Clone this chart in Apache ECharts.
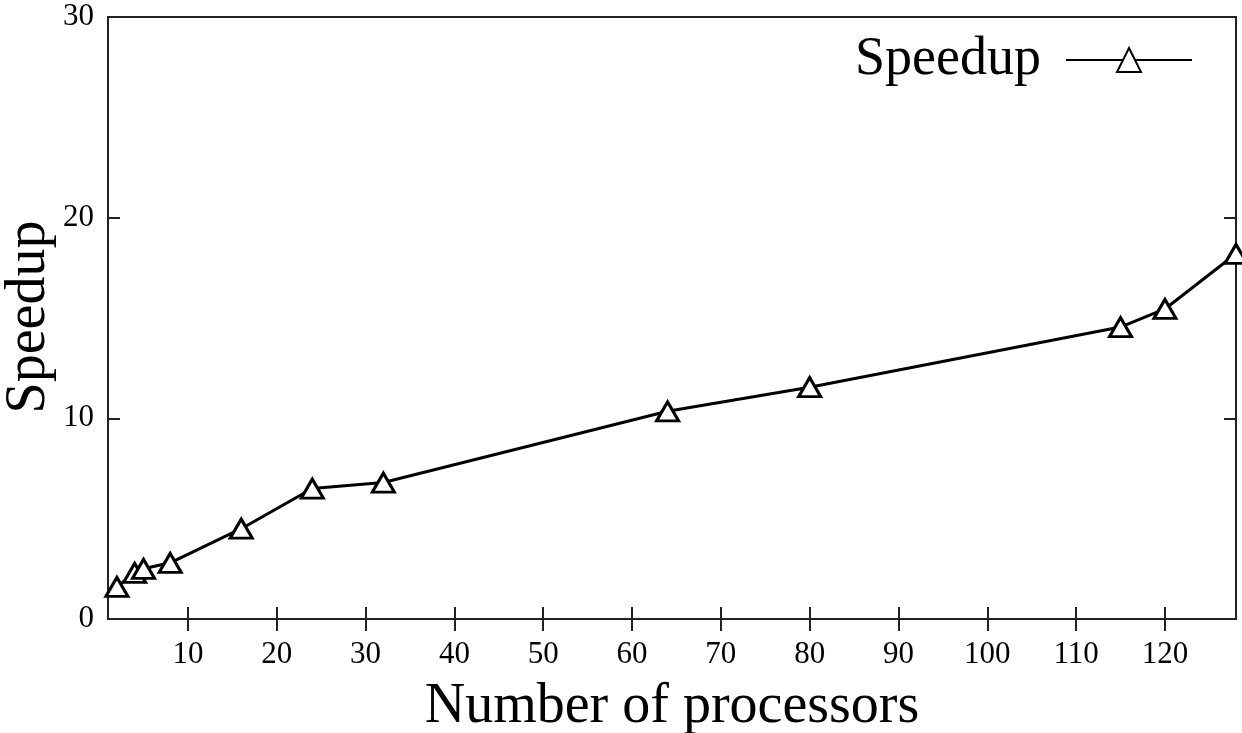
<!DOCTYPE html>
<html><head><meta charset="utf-8">
<script src="https://cdn.jsdelivr.net/npm/echarts@6/dist/echarts.min.js"></script>
<style>html,body{margin:0;padding:0;background:#fff}#c{width:1242px;height:733px}</style>
</head><body><div id="c"></div>
<script>
const processors = [2, 4, 5, 8, 16, 24, 32, 64, 80, 115, 120, 128];
const speedup = [1.6, 2.3, 2.5, 2.8, 4.5, 6.5, 6.8, 10.35, 11.55, 14.55, 15.45, 18.2];
const xTicks = [10, 20, 30, 40, 50, 60, 70, 80, 90, 100, 110, 120];
const yTicks = [0, 10, 20, 30];
const seriesName = 'Speedup';
const yTitle = 'Speedup';
const xTitle = 'Number of processors';

const font = '"Liberation Serif", "Times New Roman", serif';
const chart = echarts.init(document.getElementById('c'));
const frame = '#222';
chart.setOption({
  animation: false,
  backgroundColor: '#fff',
  grid: { left: 108, top: 17, width: 1128, height: 602, containLabel: false, outerBoundsMode: 'none', show: true, borderColor: frame, borderWidth: 2, backgroundColor: 'transparent' },
  graphic: [{
    type: 'text', x: 29, y: 317, rotation: Math.PI / 2,
    style: { text: yTitle, x: 0, y: 0, align: 'center', verticalAlign: 'middle', font: '56px "Liberation Serif", "Times New Roman", serif', fill: '#000' }
  }],
  legend: {
    right: 44, top: 28, align: 'right', itemWidth: 126, itemHeight: 30, itemGap: 10,
    textStyle: { fontFamily: font, fontSize: 54, color: '#000', padding: [0, 20, 0, 0] },
    data: [seriesName]
  },
  xAxis: [{
    type: 'value', min: 1, max: 128, position: 'bottom',
    name: xTitle, nameLocation: 'middle', nameGap: 60, nameMoveOverlap: false,
    nameTextStyle: { fontFamily: font, fontSize: 56, color: '#000' },
    axisLine: { show: false },
    axisTick: { show: true, inside: true, length: 12, lineStyle: { color: frame, width: 2 }, customValues: xTicks },
    axisLabel: { fontFamily: font, fontSize: 31, color: '#000', margin: 20, customValues: xTicks },
    splitLine: { show: false }
  }, {
    type: 'value', min: 1, max: 128, position: 'top',
    axisLine: { show: false },
    axisTick: { show: true, inside: true, length: 12, lineStyle: { color: frame, width: 2 }, customValues: xTicks },
    axisLabel: { show: false },
    splitLine: { show: false }
  }],
  yAxis: [{
    type: 'value', min: 0, max: 30, interval: 10, position: 'left',
    axisLine: { show: false },
    axisTick: { show: true, inside: true, length: 12, lineStyle: { color: frame, width: 2 } },
    axisLabel: { fontFamily: font, fontSize: 31, color: '#000', margin: 14, padding: [4, 0, 0, 0], customValues: yTicks },
    splitLine: { show: false }
  }, {
    type: 'value', min: 0, max: 30, interval: 10, position: 'right',
    axisLine: { show: false },
    axisTick: { show: true, inside: true, length: 12, lineStyle: { color: frame, width: 2 } },
    axisLabel: { show: false },
    splitLine: { show: false }
  }],
  series: [{
    name: seriesName, type: 'line',
    data: processors.map((p, i) => [p, speedup[i]]),
    symbol: 'triangle', symbolSize: [22, 19], showAllSymbol: true,
    lineStyle: { color: '#000', width: 3 },
    itemStyle: { color: '#fff', borderColor: '#000', borderWidth: 3 },
    clip: false
  }]
});
</script></body></html>
